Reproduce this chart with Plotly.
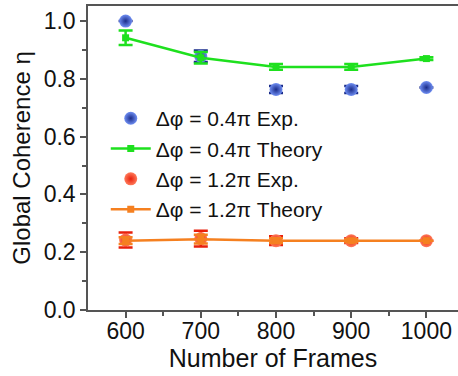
import plotly.graph_objects as go

# Number of frames used for the coherence estimate
frames = [600, 700, 800, 900, 1000]

# Δφ = 0.4π : measured and theoretical global coherence
exp_04 = [1.00, 0.878, 0.763, 0.763, 0.770]
exp_04_err = [0.0, 0.020, 0.012, 0.012, 0.0]
theo_04 = [0.942, 0.873, 0.841, 0.841, 0.870]
theo_04_err = [0.025, 0.020, 0.010, 0.010, 0.005]

# Δφ = 1.2π : measured and theoretical global coherence
exp_12 = [0.242, 0.247, 0.240, 0.240, 0.240]
exp_12_err = [0.026, 0.027, 0.015, 0.008, 0.0]
theo_12 = [0.240, 0.245, 0.240, 0.240, 0.240]
theo_12_err = [0.012, 0.015, 0.008, 0.005, 0.0]

names = ["Δφ = 0.4π Exp.", "Δφ = 0.4π Theory", "Δφ = 1.2π Exp.", "Δφ = 1.2π Theory"]

BLUE, BLUE_DARK = "#6f8ef2", "#1a2c8a"
GREEN = "#1ee01e"
RED, RED_DARK = "#ff7a5a", "#e8200c"
ORANGE = "#f58020"

fig = go.Figure()


def exp_trace(y, err, name, light, dark):
    return go.Scatter(
        x=frames, y=y, name=name, mode="markers", legendgroup=name,
        marker=dict(size=13, color=light, line=dict(width=0),
                    gradient=dict(type="radial", color=dark)),
        error_y=dict(type="data", array=err, visible=True, color=dark,
                     thickness=2.5, width=7),
    )


def theory_trace(y, err, name, color):
    return go.Scatter(
        x=frames, y=y, name=name, mode="lines+markers", legendgroup=name,
        line=dict(color=color, width=2.5),
        marker=dict(symbol="square", size=7, color=color),
        error_y=dict(type="data", array=err, visible=True, color=color,
                     thickness=2.5, width=7),
    )


fig.add_trace(exp_trace(exp_04, exp_04_err, names[0], BLUE, BLUE_DARK))
fig.add_trace(theory_trace(theo_04, theo_04_err, names[1], GREEN))
fig.add_trace(exp_trace(exp_12, exp_12_err, names[2], RED, RED_DARK))
fig.add_trace(theory_trace(theo_12, theo_12_err, names[3], ORANGE))

FONT = "Arial, 'Liberation Sans', sans-serif"
AXIS = "#555555"

fig.update_layout(
    width=458, height=376,
    margin=dict(l=88, r=0, t=6, b=66),
    paper_bgcolor="white", plot_bgcolor="white",
    font=dict(family=FONT, size=22, color="#111111"),
    showlegend=True,
    legend=dict(x=0.048, y=0.697, xanchor="left", yanchor="top",
                bgcolor="rgba(0,0,0,0)", font=dict(size=21),
                tracegroupgap=0, itemwidth=40),
    xaxis=dict(
        range=[550, 1042], tickvals=frames, ticks="outside", ticklen=6,
        tickwidth=1.5, tickcolor=AXIS, showline=True, linecolor=AXIS,
        linewidth=1.5, mirror=True, showgrid=False, zeroline=False,
        tickfont=dict(size=23), ticklabelstandoff=-6,
        minor=dict(tickvals=[650, 750, 850, 950], ticks="outside",
                   ticklen=4, tickcolor=AXIS, tickwidth=1.5),
        title=dict(text="Number of Frames", font=dict(size=25), standoff=6),
    ),
    yaxis=dict(
        range=[0, 1.052], tickvals=[0, 0.2, 0.4, 0.6, 0.8, 1.0],
        ticktext=["0.0", "0.2", "0.4", "0.6", "0.8", "1.0"],
        ticks="outside", ticklen=6, tickwidth=1.5, tickcolor=AXIS,
        showline=True, linecolor=AXIS, linewidth=1.5, showgrid=False,
        zeroline=False, tickfont=dict(size=23),
        minor=dict(tickvals=[0.1, 0.3, 0.5, 0.7, 0.9], ticks="outside",
                   ticklen=4, tickcolor=AXIS, tickwidth=1.5),
        title=dict(text="Global Coherence η", font=dict(size=24), standoff=6),
    ),
)

fig.write_html("out.html")
